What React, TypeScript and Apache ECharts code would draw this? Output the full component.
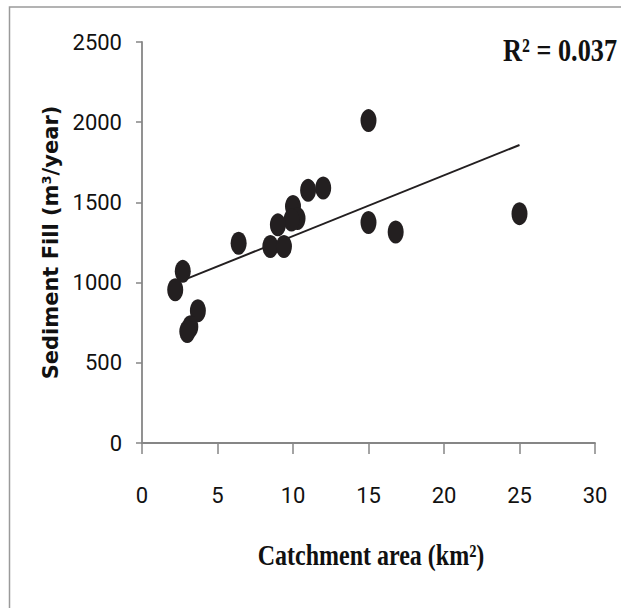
import React, { useEffect, useRef } from "react";
import * as echarts from "echarts";

const catchmentArea = [15.0, 12.0, 11.0, 10.0, 10.3, 9.9, 9.0, 6.4, 8.5, 9.4, 15.0, 2.7, 2.2, 3.7, 3.2, 3.0, 16.8, 25.0];
const sedimentFill = [2010, 1590, 1575, 1475, 1400, 1390, 1360, 1245, 1225, 1225, 1375, 1070, 955, 825, 725, 695, 1315, 1430];
const trendX = [2.2, 25.0];
const trendY = [995, 1858];
const xTicks = [0, 5, 10, 15, 20, 25, 30];
const yTicks = [0, 500, 1000, 1500, 2000, 2500];
const xTitle = "Catchment area (km²)";
const yTitle = "Sediment Fill (m³/year)";
const r2Text = "R² = 0.037";

export default function App() {
  const ref = useRef<HTMLDivElement>(null);
  useEffect(() => {
    if (!ref.current) return;
    const chart = echarts.init(ref.current, null, { renderer: "svg" });
    const axisColor = "#868686";
    const labelFont = "'Liberation Sans Narrow', Roboto, sans-serif";
    chart.setOption({
      animation: false,
      backgroundColor: "#ffffff",
      grid: { left: 142, top: 42, right: 26, bottom: 165, containLabel: false },
      xAxis: {
        type: "value",
        min: xTicks[0],
        max: xTicks[xTicks.length - 1],
        interval: 5,
        splitLine: { show: false },
        axisLine: { show: true, onZero: false, lineStyle: { color: axisColor, width: 1.8 } },
        axisTick: { show: true, inside: false, length: 11, lineStyle: { color: axisColor, width: 1.5 } },
        axisLabel: { margin: 41, fontSize: 22, color: "#111", fontFamily: labelFont, formatter: (v: number) => String(v) },
      },
      yAxis: {
        type: "value",
        min: yTicks[0],
        max: yTicks[yTicks.length - 1],
        interval: 500,
        splitLine: { show: false },
        axisLine: { show: true, onZero: false, lineStyle: { color: axisColor, width: 1.8 } },
        axisTick: { show: true, inside: false, length: 6, lineStyle: { color: axisColor, width: 1.5 } },
        axisLabel: { margin: 20, fontSize: 22, color: "#111", fontFamily: labelFont, formatter: (v: number) => String(v) },
        name: yTitle,
        nameLocation: "middle",
        nameGap: 48,
        nameRotate: 90,
        nameTextStyle: { fontSize: 21, fontWeight: "bold", color: "#111", fontFamily: "'DejaVu Sans', sans-serif" },
      },
      series: [
        {
          type: "line",
          data: trendX.map((x, i) => [x, trendY[i]]),
          showSymbol: false,
          symbol: "none",
          lineStyle: { color: "#231f20", width: 2 },
          z: 2,
        },
        {
          type: "scatter",
          data: catchmentArea.map((x, i) => [x, sedimentFill[i]]),
          symbol: "circle",
          symbolSize: [16, 23],
          itemStyle: { color: "#231f20", opacity: 1 },
          z: 3,
        },
      ],
      graphic: [
        {
          type: "rect",
          shape: { x: 9.5, y: 7, width: 700, height: 700 },
          style: { fill: "none", stroke: "#9a9a9a", lineWidth: 1.5 },
          silent: true,
        },
        {
          type: "text",
          x: 617,
          y: 50,
          scaleX: 0.82,
          style: {
            text: r2Text,
            fontSize: 32,
            fontWeight: "bold",
            fontFamily: "'Liberation Serif', 'Times New Roman', serif",
            fill: "#111",
            textAlign: "right",
            textVerticalAlign: "middle",
          },
        },
        {
          type: "text",
          x: 371,
          y: 555,
          scaleX: 0.8,
          style: {
            text: xTitle,
            fontSize: 30,
            fontWeight: "bold",
            fontFamily: "'Liberation Serif', 'Times New Roman', serif",
            fill: "#111",
            textAlign: "center",
            textVerticalAlign: "middle",
          },
        },
      ],
    });
    return () => chart.dispose();
  }, []);
  return (
    <div
      ref={ref}
      style={{ position: "fixed", left: 0, top: 0, width: 621, height: 608 }}
    />
  );
}
